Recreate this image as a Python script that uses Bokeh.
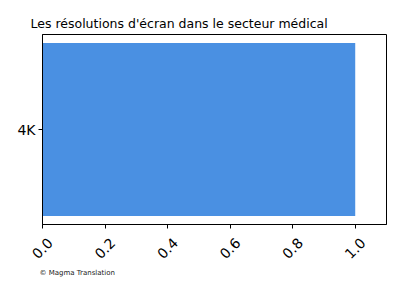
from bokeh.plotting import figure
from bokeh.models import FactorRange, Range1d, FixedTicker, LinearAxis, Title, ColumnDataSource
from bokeh.embed import file_html
from bokeh.resources import INLINE
import math

# Data
resolutions = ["4K"]
shares = [1.0]
x_ticks = [0.0, 0.2, 0.4, 0.6, 0.8, 1.0]
x_tick_labels = ["0.0", "0.2", "0.4", "0.6", "0.8", "1.0"]

source = ColumnDataSource(dict(res=resolutions, share=shares))

p = figure(
    width=400, height=300,
    y_range=FactorRange(factors=resolutions),
    x_range=Range1d(0, 1.1),
    output_backend="svg", toolbar_location=None,
    min_border_left=42, min_border_right=14, min_border_top=34, min_border_bottom=76,
)

p.hbar(y="res", right="share", left=0, height=0.91, source=source,
       fill_color="#4a90e2", line_color=None)

p.title.text = "Les résolutions d'écran dans le secteur médical"
p.title.text_font = "DejaVu Sans"
p.title.text_font_size = "12.5px"
p.title.text_font_style = "normal"
p.title.text_color = "black"
p.title.align = "left"
p.title.offset = -12
p.title.standoff = 7

p.xgrid.grid_line_color = None
p.ygrid.grid_line_color = None
p.outline_line_color = "black"
p.outline_line_width = 1

for ax in (p.xaxis, p.yaxis):
    ax.axis_line_color = "black"
    ax.major_tick_line_color = "black"
    ax.major_tick_in = 0
    ax.major_tick_out = 4
    ax.minor_tick_line_color = None
    ax.major_label_text_font = "DejaVu Sans"
    ax.major_label_text_font_size = "14px"
    ax.major_label_text_color = "black"

# bottom axis: tick marks only
p.xaxis.ticker = FixedTicker(ticks=x_ticks)
p.xaxis.major_label_overrides = {t: "" for t in x_ticks}
p.xaxis.major_label_standoff = 0
p.yaxis.major_label_standoff = 3

# second axis carrying the rotated labels, nudged so each label is centred on its tick
nudge = 0.025
label_axis = LinearAxis(
    ticker=FixedTicker(ticks=[t + nudge for t in x_ticks]),
    major_label_overrides={t + nudge: lab for t, lab in zip(x_ticks, x_tick_labels)},
    major_label_orientation=math.pi / 4,
    major_label_text_font="DejaVu Sans", major_label_text_font_size="14px",
    major_label_text_color="black", major_label_standoff=12,
    axis_line_color=None, major_tick_line_color=None, minor_tick_line_color=None,
    major_tick_in=0, major_tick_out=0,
)
p.add_layout(label_axis, "below")

footer = Title(text="© Magma Translation", text_font="DejaVu Sans", text_font_size="7px",
               text_font_style="normal", text_color="#222222", align="left", offset=-3,
               standoff=0)
p.add_layout(footer, "below")

open("out.html", "w").write(file_html(p, INLINE))
